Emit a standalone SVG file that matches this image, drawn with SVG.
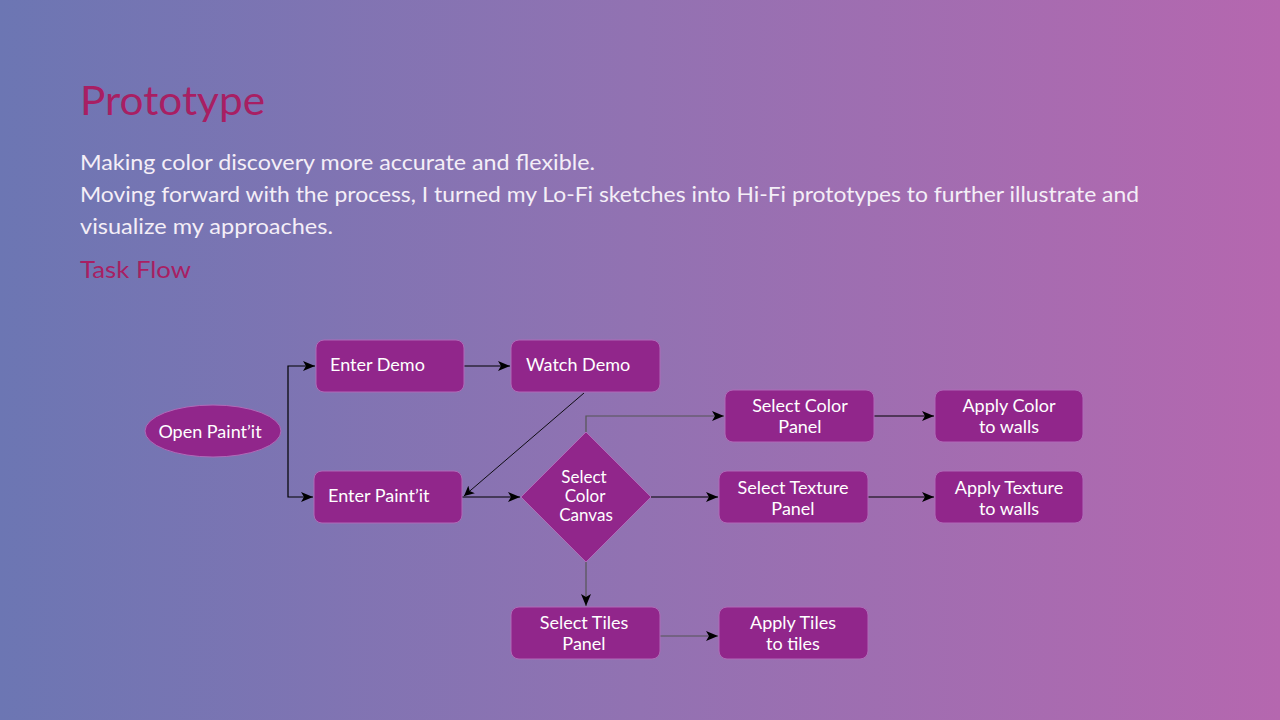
<svg xmlns="http://www.w3.org/2000/svg" width="1280" height="720" viewBox="0 0 1280 720">
<defs>
<linearGradient id="bg" x1="0" y1="0" x2="1" y2="0">
<stop offset="0" stop-color="#6c76b3"/>
<stop offset="0.5" stop-color="#9272b2"/>
<stop offset="1" stop-color="#b567af"/>
</linearGradient>
<marker id="arr" markerWidth="14" markerHeight="10" refX="12" refY="5" orient="auto" markerUnits="userSpaceOnUse">
<path d="M0,0 L12,5 L0,10 L3,5 Z" fill="#000"/>
</marker>
<marker id="arrS" markerWidth="12" markerHeight="10" refX="10" refY="5" orient="auto" markerUnits="userSpaceOnUse">
<path d="M0,0 L10,5 L0,10 L2.5,5 Z" fill="#000"/>
</marker>
</defs>
<style>
.node{fill:#91268b;stroke:#b06ab8;stroke-width:1}
.t{font-family:Lato,"Open Sans",sans-serif;font-size:18px;fill:#ffffff}
.d{font-size:17px}
.c{text-anchor:middle}
.h{font-family:Lato,"Open Sans",sans-serif;fill:#a81f63}
.p{font-family:Lato,"Open Sans",sans-serif;font-size:22px;fill:#f4eef7}
.ln{fill:none;stroke:#000;stroke-width:1.2;marker-end:url(#arr)}
.lg{fill:none;stroke:#555;stroke-width:1.2;marker-end:url(#arr)}
</style>
<rect width="1280" height="720" fill="url(#bg)"/>
<g id="header">
<text class="h" x="80" y="115" font-size="40" textLength="185" lengthAdjust="spacingAndGlyphs">Prototype</text>
<text class="p" x="80" y="170" textLength="515" lengthAdjust="spacingAndGlyphs">Making color discovery more accurate and flexible.</text>
<text class="p" x="80" y="202" textLength="1059" lengthAdjust="spacingAndGlyphs">Moving forward with the process, I turned my Lo-Fi sketches into Hi-Fi prototypes to further illustrate and</text>
<text class="p" x="80" y="234" textLength="253" lengthAdjust="spacingAndGlyphs">visualize my approaches.</text>
<text class="h" x="80" y="278" font-size="23" textLength="111" lengthAdjust="spacingAndGlyphs">Task Flow</text>
</g>
<g id="connectors">
<path class="ln" d="M288,431 V366 H315"/>
<path class="ln" d="M288,431 V497 H313"/>
<path class="ln" d="M464,366 H510"/>
<path d="M584,393 L464,496" fill="none" stroke="#000" stroke-width="0.9" marker-end="url(#arrS)"/>
<path class="ln" d="M462,497 H520"/>
<path class="lg" d="M586,432 V416 H724"/>
<path class="ln" d="M874,416 H934"/>
<path class="ln" d="M651,497 H718"/>
<path class="ln" d="M868,497 H934"/>
<path class="lg" d="M586,562 V606"/>
<path class="lg" d="M660,636 H718"/>
</g>
<g id="open-paintit">
<ellipse class="node" cx="213" cy="431" rx="68" ry="26"/>
<text class="t c" x="210" y="438">Open Paint’it</text>
</g>
<g id="enter-demo">
<rect class="node" x="316" y="340" width="148" height="52" rx="8"/>
<text class="t" x="330" y="371">Enter Demo</text>
</g>
<g id="watch-demo">
<rect class="node" x="511" y="340" width="149" height="52" rx="8"/>
<text class="t" x="526" y="371">Watch Demo</text>
</g>
<g id="enter-paintit">
<rect class="node" x="314" y="471" width="148" height="52" rx="8"/>
<text class="t" x="328" y="502">Enter Paint’it</text>
</g>
<g id="select-color-canvas">
<polygon class="node" points="586,432 651,497 586,562 521,497"/>
<text class="t d c" x="584" y="483">Select</text>
<text class="t d c" x="585" y="502">Color</text>
<text class="t d c" x="586" y="521">Canvas</text>
</g>
<g id="select-color-panel">
<rect class="node" x="725" y="390" width="149" height="52" rx="8"/>
<text class="t c" x="800" y="412">Select Color</text>
<text class="t c" x="800" y="433">Panel</text>
</g>
<g id="apply-color">
<rect class="node" x="935" y="390" width="148" height="52" rx="8"/>
<text class="t c" x="1009" y="412">Apply Color</text>
<text class="t c" x="1009" y="433">to walls</text>
</g>
<g id="select-texture-panel">
<rect class="node" x="719" y="471" width="149" height="52" rx="8"/>
<text class="t c" x="793" y="494">Select Texture</text>
<text class="t c" x="793" y="515">Panel</text>
</g>
<g id="apply-texture">
<rect class="node" x="935" y="471" width="148" height="52" rx="8"/>
<text class="t c" x="1009" y="494">Apply Texture</text>
<text class="t c" x="1009" y="515">to walls</text>
</g>
<g id="select-tiles-panel">
<rect class="node" x="511" y="607" width="149" height="52" rx="8"/>
<text class="t c" x="584" y="629">Select Tiles</text>
<text class="t c" x="584" y="650">Panel</text>
</g>
<g id="apply-tiles">
<rect class="node" x="719" y="607" width="149" height="52" rx="8"/>
<text class="t c" x="793" y="629">Apply Tiles</text>
<text class="t c" x="793" y="650">to tiles</text>
</g>
</svg>
